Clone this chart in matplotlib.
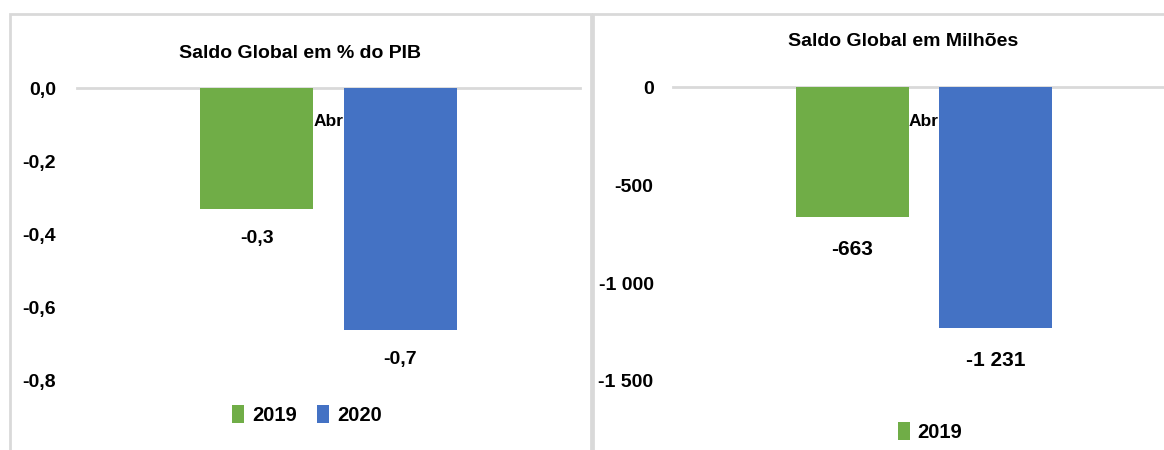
import matplotlib
matplotlib.use("Agg")
import matplotlib.pyplot as plt
from matplotlib.patches import Patch, Rectangle

plt.rcParams['font.family'] = ['Liberation Sans', 'DejaVu Sans']
plt.rcParams['font.weight'] = 'bold'

categories = ['Abr']
series_names = ['2019', '2020']
colors = ['#70AD47', '#4472C4']
pib_values = [-0.33, -0.66]
pib_labels = ['-0,3', '-0,7']
pib_ticks = [0.0, -0.2, -0.4, -0.6, -0.8]
pib_ticklabels = ['0,0', '-0,2', '-0,4', '-0,6', '-0,8']
mil_values = [-663, -1231]
mil_labels = ['-663', '-1 231']
mil_ticks = [0, -500, -1000, -1500]
mil_ticklabels = ['0', '-500', '-1 000', '-1 500']

W, H = 1164, 450
fig = plt.figure(figsize=(W / 100, H / 100), dpi=100)

def fx(px):
    return px / W

def fy(py):
    return 1 - py / H

# panel borders
border = '#d9d9d9'
fig.patches.append(Rectangle((fx(10), fy(470)), fx(581), fy(14) - fy(470),
                             transform=fig.transFigure, fill=False, edgecolor=border, lw=2))
fig.patches.append(Rectangle((fx(593), fy(470)), fx(600), fy(14) - fy(470),
                             transform=fig.transFigure, fill=False, edgecolor=border, lw=2))

bar_w = 1.0
offset = 0.633

def panel(x0, x1, ytop, ybot, values, labels, ticks, ticklabels, ylim, title, title_xy,
          legend_xy, legend_n, label_offsets, tick_pad, label_fs):
    ax = fig.add_axes([fx(x0), fy(ybot), fx(x1 - x0), fy(ytop) - fy(ybot)])
    half = (x1 - x0) / 113 / 2
    for i, (v, c) in enumerate(zip(values, colors)):
        xpos = (i - 0.5) * 2 * offset
        ax.bar(xpos, v, width=bar_w, color=c, zorder=3)
        ax.annotate(labels[i], (xpos, v), xytext=(0, -label_offsets[i]),
                    textcoords='offset pixels', ha='center', va='center',
                    fontsize=label_fs, fontweight='bold', color='black', zorder=4)
    ax.set_xlim(-half, half)
    ax.set_ylim(*ylim)
    ax.axhline(0, color='#d9d9d9', lw=2, zorder=1, clip_on=False)
    ax.set_yticks(ticks)
    ax.set_yticklabels(ticklabels, fontsize=14, fontweight='bold')
    ax.tick_params(axis='y', length=0, pad=tick_pad)
    ax.set_xticks([])
    for s in ax.spines.values():
        s.set_visible(False)
    ax.patch.set_alpha(0)
    # category label
    yabr = ylim[0] + (ylim[1] - ylim[0]) * (ybot - 122) / (ybot - ytop)
    ax.text(0, yabr, categories[0], ha='center', va='center', fontsize=12.5,
            fontweight='bold', zorder=2)
    fig.text(fx(title_xy[0]), fy(title_xy[1]), title, ha='center', va='center',
             fontsize=14, fontweight='bold')
    handles = [Patch(facecolor=colors[i], edgecolor='none', label=series_names[i])
               for i in range(legend_n)]
    fig.legend(handles=handles, loc='center', bbox_to_anchor=(fx(legend_xy[0]), fy(legend_xy[1])),
               ncol=legend_n, frameon=False, handlelength=0.6, handleheight=1.0,
               handletextpad=0.4, columnspacing=1.0, prop={'weight': 'bold', 'size': 14.5})
    return ax

panel(77, 580, 88, 381, pib_values, pib_labels, pib_ticks, pib_ticklabels, (-0.8, 0.0),
      'Saldo Global em % do PIB', (300, 53), (307, 415), 2, (30, 30), 15, 14)
panel(673, 1175, 87, 381, mil_values, mil_labels, mil_ticks, mil_ticklabels, (-1500, 0),
      'Saldo Global em Milhões', (903, 42), (930, 432), 1, (33, 32), 14, 15)

fig.savefig('out.png', dpi=100)
